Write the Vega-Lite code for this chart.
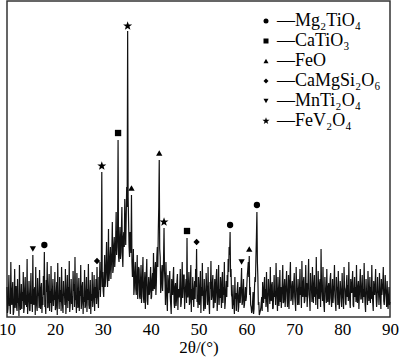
{
  "$schema": "https://vega.github.io/schema/vega-lite/v6.json",
  "width": 383,
  "height": 316,
  "autosize": {"type": "none"},
  "padding": {"left": 7, "top": 1, "right": 10, "bottom": 44},
  "background": "white",
  "config": {
    "font": "Times New Roman, Liberation Serif, serif",
    "axis": {"labelFont": "Times New Roman, Liberation Serif, serif", "titleFont": "Times New Roman, Liberation Serif, serif"},
    "legend": {"labelFont": "Times New Roman, Liberation Serif, serif"},
    "view": {"stroke": "#333", "strokeWidth": 1.5}
  },
  "datasets": {
    "pattern": [
{"t":10.0,"i":30},{"t":10.1,"i":4},{"t":10.2,"i":8},{"t":10.3,"i":22},{"t":10.4,"i":42},{"t":10.5,"i":11},{"t":10.6,"i":15},{"t":10.7,"i":3},{"t":10.8,"i":55},{"t":10.9,"i":19},
{"t":11.0,"i":12},{"t":11.1,"i":26},{"t":11.2,"i":35},{"t":11.3,"i":2},{"t":11.4,"i":5},{"t":11.5,"i":17},{"t":11.6,"i":48},{"t":11.7,"i":9},{"t":11.8,"i":20},{"t":11.9,"i":31},
{"t":12.0,"i":10},{"t":12.1,"i":6},{"t":12.2,"i":38},{"t":12.3,"i":14},{"t":12.4,"i":18},{"t":12.5,"i":1},{"t":12.6,"i":52},{"t":12.7,"i":23},{"t":12.8,"i":7},{"t":12.9,"i":13},
{"t":13.0,"i":33},{"t":13.1,"i":8},{"t":13.2,"i":25},{"t":13.3,"i":16},{"t":13.4,"i":45},{"t":13.5,"i":4},{"t":13.6,"i":9},{"t":13.7,"i":28},{"t":13.8,"i":40},{"t":13.9,"i":12},
{"t":14.0,"i":22},{"t":14.1,"i":10},{"t":14.2,"i":58},{"t":14.3,"i":3},{"t":14.4,"i":14},{"t":14.5,"i":20},{"t":14.6,"i":36},{"t":14.7,"i":7},{"t":14.8,"i":6},{"t":14.9,"i":24},
{"t":15.0,"i":44},{"t":15.1,"i":13},{"t":15.2,"i":19},{"t":15.3,"i":5},{"t":15.4,"i":62},{"t":15.5,"i":15},{"t":15.6,"i":12},{"t":15.7,"i":27},{"t":15.8,"i":30},{"t":15.9,"i":2},
{"t":16.0,"i":50},{"t":16.1,"i":18},{"t":16.2,"i":11},{"t":16.3,"i":6},{"t":16.4,"i":39},{"t":16.5,"i":21},{"t":16.6,"i":24},{"t":16.7,"i":9},{"t":16.8,"i":47},{"t":16.9,"i":16},
{"t":17.0,"i":8},{"t":17.1,"i":29},{"t":17.2,"i":34},{"t":17.3,"i":4},{"t":17.4,"i":20},{"t":17.5,"i":12},{"t":17.6,"i":41},{"t":17.7,"i":22},{"t":17.8,"i":65},{"t":17.9,"i":10},
{"t":18.0,"i":14},{"t":18.1,"i":3},{"t":18.2,"i":37},{"t":18.3,"i":25},{"t":18.4,"i":55},{"t":18.5,"i":9},{"t":18.6,"i":10},{"t":18.7,"i":30},{"t":18.8,"i":43},{"t":18.9,"i":6},
{"t":19.0,"i":26},{"t":19.1,"i":14},{"t":19.2,"i":51},{"t":19.3,"i":5},{"t":19.4,"i":13},{"t":19.5,"i":27},{"t":19.6,"i":38},{"t":19.7,"i":11},{"t":19.8,"i":22},{"t":19.9,"i":17},
{"t":20.0,"i":45},{"t":20.1,"i":7},{"t":20.2,"i":9},{"t":20.3,"i":24},{"t":20.4,"i":35},{"t":20.5,"i":2},{"t":20.6,"i":54},{"t":20.7,"i":19},{"t":20.8,"i":18},{"t":20.9,"i":8},
{"t":21.0,"i":40},{"t":21.1,"i":15},{"t":21.2,"i":27},{"t":21.3,"i":6},{"t":21.4,"i":50},{"t":21.5,"i":23},{"t":21.6,"i":11},{"t":21.7,"i":4},{"t":21.8,"i":36},{"t":21.9,"i":21},
{"t":22.0,"i":24},{"t":22.1,"i":12},{"t":22.2,"i":48},{"t":22.3,"i":3},{"t":22.4,"i":15},{"t":22.5,"i":28},{"t":22.6,"i":42},{"t":22.7,"i":9},{"t":22.8,"i":30},{"t":22.9,"i":16},
{"t":23.0,"i":56},{"t":23.1,"i":5},{"t":23.2,"i":12},{"t":23.3,"i":20},{"t":23.4,"i":38},{"t":23.5,"i":13},{"t":23.6,"i":21},{"t":23.7,"i":7},{"t":23.8,"i":46},{"t":23.9,"i":26},
{"t":24.0,"i":33},{"t":24.1,"i":10},{"t":24.2,"i":60},{"t":24.3,"i":18},{"t":24.4,"i":17},{"t":24.5,"i":4},{"t":24.6,"i":44},{"t":24.7,"i":29},{"t":24.8,"i":9},{"t":24.9,"i":14},
{"t":25.0,"i":39},{"t":25.1,"i":6},{"t":25.2,"i":26},{"t":25.3,"i":21},{"t":25.4,"i":52},{"t":25.5,"i":8},{"t":25.6,"i":14},{"t":25.7,"i":31},{"t":25.8,"i":35},{"t":25.9,"i":3},
{"t":26.0,"i":20},{"t":26.1,"i":15},{"t":26.2,"i":47},{"t":26.3,"i":9},{"t":26.4,"i":11},{"t":26.5,"i":25},{"t":26.6,"i":40},{"t":26.7,"i":5},{"t":26.8,"i":28},{"t":26.9,"i":17},
{"t":27.0,"i":53},{"t":27.1,"i":12},{"t":27.2,"i":8},{"t":27.3,"i":22},{"t":27.4,"i":37},{"t":27.5,"i":3},{"t":27.6,"i":23},{"t":27.7,"i":16},{"t":27.8,"i":45},{"t":27.9,"i":10},
{"t":28.0,"i":16},{"t":28.1,"i":28},{"t":28.2,"i":42},{"t":28.3,"i":6},{"t":28.4,"i":30},{"t":28.5,"i":19},{"t":28.6,"i":38},{"t":28.7,"i":13},{"t":28.8,"i":50},{"t":28.9,"i":24},
{"t":29.0,"i":18},{"t":29.1,"i":9},{"t":29.2,"i":40},{"t":29.3,"i":27},{"t":29.4,"i":55},{"t":29.5,"i":20},{"t":29.6,"i":35},{"t":29.7,"i":48},{"t":29.8,"i":145},{"t":29.9,"i":30},
{"t":30.0,"i":45},{"t":30.1,"i":26},{"t":30.2,"i":20},{"t":30.3,"i":40},{"t":30.4,"i":62},{"t":30.5,"i":30},{"t":30.6,"i":38},{"t":30.7,"i":55},{"t":30.8,"i":75},{"t":30.9,"i":42},
{"t":31.0,"i":30},{"t":31.1,"i":50},{"t":31.2,"i":88},{"t":31.3,"i":36},{"t":31.4,"i":45},{"t":31.5,"i":60},{"t":31.6,"i":70},{"t":31.7,"i":38},{"t":31.8,"i":52},{"t":31.9,"i":66},
{"t":32.0,"i":95},{"t":32.1,"i":44},{"t":32.2,"i":48},{"t":32.3,"i":72},{"t":32.4,"i":80},{"t":32.5,"i":50},{"t":32.6,"i":60},{"t":32.7,"i":78},{"t":32.8,"i":105},{"t":32.9,"i":62},
{"t":33.0,"i":70},{"t":33.1,"i":85},{"t":33.2,"i":177},{"t":33.3,"i":60},{"t":33.4,"i":55},{"t":33.5,"i":75},{"t":33.6,"i":90},{"t":33.7,"i":58},{"t":33.8,"i":65},{"t":33.9,"i":88},
{"t":34.0,"i":110},{"t":34.1,"i":62},{"t":34.2,"i":50},{"t":34.3,"i":80},{"t":34.4,"i":85},{"t":34.5,"i":70},{"t":34.6,"i":118},{"t":34.7,"i":92},{"t":34.8,"i":72},{"t":34.9,"i":100},
{"t":35.0,"i":130},{"t":35.1,"i":110},{"t":35.2,"i":286},{"t":35.3,"i":120},{"t":35.4,"i":95},{"t":35.5,"i":70},{"t":35.6,"i":60},{"t":35.7,"i":85},{"t":35.8,"i":80},{"t":35.9,"i":64},
{"t":36.0,"i":122},{"t":36.1,"i":55},{"t":36.2,"i":40},{"t":36.3,"i":48},{"t":36.4,"i":68},{"t":36.5,"i":22},{"t":36.6,"i":30},{"t":36.7,"i":45},{"t":36.8,"i":55},{"t":36.9,"i":28},
{"t":37.0,"i":22},{"t":37.1,"i":40},{"t":37.2,"i":62},{"t":37.3,"i":18},{"t":37.4,"i":35},{"t":37.5,"i":50},{"t":37.6,"i":48},{"t":37.7,"i":20},{"t":37.8,"i":18},{"t":37.9,"i":38},
{"t":38.0,"i":52},{"t":38.1,"i":14},{"t":38.2,"i":26},{"t":38.3,"i":42},{"t":38.4,"i":60},{"t":38.5,"i":20},{"t":38.6,"i":14},{"t":38.7,"i":33},{"t":38.8,"i":45},{"t":38.9,"i":8},
{"t":39.0,"i":30},{"t":39.1,"i":44},{"t":39.2,"i":58},{"t":39.3,"i":16},{"t":39.4,"i":12},{"t":39.5,"i":28},{"t":39.6,"i":40},{"t":39.7,"i":22},{"t":39.8,"i":25},{"t":39.9,"i":36},
{"t":40.0,"i":50},{"t":40.1,"i":18},{"t":40.2,"i":20},{"t":40.3,"i":38},{"t":40.4,"i":44},{"t":40.5,"i":26},{"t":40.6,"i":64},{"t":40.7,"i":30},{"t":40.8,"i":28},{"t":40.9,"i":48},
{"t":41.0,"i":55},{"t":41.1,"i":22},{"t":41.2,"i":35},{"t":41.3,"i":60},{"t":41.4,"i":70},{"t":41.5,"i":50},{"t":41.6,"i":85},{"t":41.7,"i":110},{"t":41.8,"i":157},{"t":41.9,"i":68},
{"t":42.0,"i":60},{"t":42.1,"i":24},{"t":42.2,"i":30},{"t":42.3,"i":45},{"t":42.4,"i":52},{"t":42.5,"i":26},{"t":42.6,"i":40},{"t":42.7,"i":58},{"t":42.8,"i":89},{"t":42.9,"i":46},
{"t":43.0,"i":35},{"t":43.1,"i":12},{"t":43.2,"i":55},{"t":43.3,"i":30},{"t":43.4,"i":18},{"t":43.5,"i":6},{"t":43.6,"i":42},{"t":43.7,"i":25},{"t":43.8,"i":24},{"t":43.9,"i":38},
{"t":44.0,"i":46},{"t":44.1,"i":20},{"t":44.2,"i":12},{"t":44.3,"i":3},{"t":44.4,"i":38},{"t":44.5,"i":27},{"t":44.6,"i":22},{"t":44.7,"i":40},{"t":44.8,"i":50},{"t":44.9,"i":14},
{"t":45.0,"i":9},{"t":45.1,"i":30},{"t":45.2,"i":34},{"t":45.3,"i":11},{"t":45.4,"i":17},{"t":45.5,"i":36},{"t":45.6,"i":43},{"t":45.7,"i":7},{"t":45.8,"i":28},{"t":45.9,"i":20},
{"t":46.0,"i":20},{"t":46.1,"i":33},{"t":46.2,"i":48},{"t":46.3,"i":10},{"t":46.4,"i":14},{"t":46.5,"i":28},{"t":46.6,"i":55},{"t":46.7,"i":19},{"t":46.8,"i":30},{"t":46.9,"i":42},
{"t":47.0,"i":42},{"t":47.1,"i":8},{"t":47.2,"i":25},{"t":47.3,"i":30},{"t":47.4,"i":38},{"t":47.5,"i":14},{"t":47.6,"i":79},{"t":47.7,"i":20},{"t":47.8,"i":20},{"t":47.9,"i":32},
{"t":48.0,"i":45},{"t":48.1,"i":12},{"t":48.2,"i":15},{"t":48.3,"i":36},{"t":48.4,"i":52},{"t":48.5,"i":5},{"t":48.6,"i":28},{"t":48.7,"i":17},{"t":48.8,"i":40},{"t":48.9,"i":24},
{"t":49.0,"i":10},{"t":49.1,"i":26},{"t":49.2,"i":36},{"t":49.3,"i":18},{"t":49.4,"i":48},{"t":49.5,"i":30},{"t":49.6,"i":68},{"t":49.7,"i":15},{"t":49.8,"i":22},{"t":49.9,"i":9},
{"t":50.0,"i":40},{"t":50.1,"i":18},{"t":50.2,"i":12},{"t":50.3,"i":33},{"t":50.4,"i":46},{"t":50.5,"i":4},{"t":50.6,"i":30},{"t":50.7,"i":21},{"t":50.8,"i":54},{"t":50.9,"i":27},
{"t":51.0,"i":18},{"t":51.1,"i":6},{"t":51.2,"i":38},{"t":51.3,"i":24},{"t":51.4,"i":8},{"t":51.5,"i":15},{"t":51.6,"i":44},{"t":51.7,"i":30},{"t":51.8,"i":26},{"t":51.9,"i":12},
{"t":52.0,"i":50},{"t":52.1,"i":20},{"t":52.2,"i":14},{"t":52.3,"i":3},{"t":52.4,"i":35},{"t":52.5,"i":28},{"t":52.6,"i":56},{"t":52.7,"i":17},{"t":52.8,"i":20},{"t":52.9,"i":34},
{"t":53.0,"i":42},{"t":53.1,"i":9},{"t":53.2,"i":10},{"t":53.3,"i":26},{"t":53.4,"i":38},{"t":53.5,"i":14},{"t":53.6,"i":24},{"t":53.7,"i":40},{"t":53.8,"i":48},{"t":53.9,"i":6},
{"t":54.0,"i":16},{"t":54.1,"i":31},{"t":54.2,"i":52},{"t":54.3,"i":12},{"t":54.4,"i":28},{"t":54.5,"i":19},{"t":54.6,"i":40},{"t":54.7,"i":23},{"t":54.8,"i":9},{"t":54.9,"i":35},
{"t":55.0,"i":45},{"t":55.1,"i":14},{"t":55.2,"i":30},{"t":55.3,"i":22},{"t":55.4,"i":55},{"t":55.5,"i":8},{"t":55.6,"i":15},{"t":55.7,"i":27},{"t":55.8,"i":36},{"t":55.9,"i":20},
{"t":56.0,"i":42},{"t":56.1,"i":30},{"t":56.2,"i":58},{"t":56.3,"i":45},{"t":56.4,"i":70},{"t":56.5,"i":62},{"t":56.6,"i":85},{"t":56.7,"i":40},{"t":56.8,"i":48},{"t":56.9,"i":22},
{"t":57.0,"i":20},{"t":57.1,"i":8},{"t":57.2,"i":32},{"t":57.3,"i":14},{"t":57.4,"i":12},{"t":57.5,"i":3},{"t":57.6,"i":40},{"t":57.7,"i":18},{"t":57.8,"i":24},{"t":57.9,"i":6},
{"t":58.0,"i":18},{"t":58.1,"i":28},{"t":58.2,"i":35},{"t":58.3,"i":5},{"t":58.4,"i":10},{"t":58.5,"i":22},{"t":58.6,"i":30},{"t":58.7,"i":14},{"t":58.8,"i":22},{"t":58.9,"i":35},
{"t":59.0,"i":49},{"t":59.1,"i":12},{"t":59.2,"i":15},{"t":59.3,"i":26},{"t":59.4,"i":38},{"t":59.5,"i":9},{"t":59.6,"i":12},{"t":59.7,"i":20},{"t":59.8,"i":30},{"t":59.9,"i":16},
{"t":60.0,"i":20},{"t":60.1,"i":33},{"t":60.2,"i":42},{"t":60.3,"i":48},{"t":60.4,"i":55},{"t":60.5,"i":40},{"t":60.6,"i":61},{"t":60.7,"i":22},{"t":60.8,"i":30},{"t":60.9,"i":12},
{"t":61.0,"i":10},{"t":61.1,"i":4},{"t":61.2,"i":6},{"t":61.3,"i":15},{"t":61.4,"i":25},{"t":61.5,"i":3},{"t":61.6,"i":8},{"t":61.7,"i":30},{"t":61.8,"i":40},{"t":61.9,"i":35},
{"t":62.0,"i":60},{"t":62.1,"i":80},{"t":62.2,"i":105},{"t":62.3,"i":55},{"t":62.4,"i":40},{"t":62.5,"i":12},{"t":62.6,"i":15},{"t":62.7,"i":2},{"t":62.8,"i":4},{"t":62.9,"i":6},
{"t":63.0,"i":8},{"t":63.1,"i":14},{"t":63.2,"i":20},{"t":63.3,"i":6},{"t":63.4,"i":35},{"t":63.5,"i":22},{"t":63.6,"i":14},{"t":63.7,"i":30},{"t":63.8,"i":40},{"t":63.9,"i":18},
{"t":64.0,"i":28},{"t":64.1,"i":10},{"t":64.2,"i":45},{"t":64.3,"i":24},{"t":64.4,"i":12},{"t":64.5,"i":5},{"t":64.6,"i":38},{"t":64.7,"i":26},{"t":64.8,"i":22},{"t":64.9,"i":13},
{"t":65.0,"i":50},{"t":65.1,"i":18},{"t":65.2,"i":16},{"t":65.3,"i":32},{"t":65.4,"i":35},{"t":65.5,"i":8},{"t":65.6,"i":9},{"t":65.7,"i":25},{"t":65.8,"i":42},{"t":65.9,"i":20},
{"t":66.0,"i":26},{"t":66.1,"i":12},{"t":66.2,"i":54},{"t":66.3,"i":30},{"t":66.4,"i":18},{"t":66.5,"i":6},{"t":66.6,"i":40},{"t":66.7,"i":22},{"t":66.8,"i":11},{"t":66.9,"i":28},
{"t":67.0,"i":47},{"t":67.1,"i":15},{"t":67.2,"i":30},{"t":67.3,"i":9},{"t":67.4,"i":20},{"t":67.5,"i":36},{"t":67.6,"i":52},{"t":67.7,"i":14},{"t":67.8,"i":15},{"t":67.9,"i":30},
{"t":68.0,"i":38},{"t":68.1,"i":10},{"t":68.2,"i":24},{"t":68.3,"i":33},{"t":68.4,"i":46},{"t":68.5,"i":18},{"t":68.6,"i":10},{"t":68.7,"i":25},{"t":68.8,"i":42},{"t":68.9,"i":8},
{"t":69.0,"i":28},{"t":69.1,"i":40},{"t":69.2,"i":55},{"t":69.3,"i":16},{"t":69.4,"i":18},{"t":69.5,"i":30},{"t":69.6,"i":36},{"t":69.7,"i":12},{"t":69.8,"i":22},{"t":69.9,"i":34},
{"t":70.0,"i":44},{"t":70.1,"i":20},{"t":70.2,"i":14},{"t":70.3,"i":6},{"t":70.4,"i":50},{"t":70.5,"i":28},{"t":70.6,"i":26},{"t":70.7,"i":12},{"t":70.8,"i":38},{"t":70.9,"i":19},
{"t":71.0,"i":12},{"t":71.1,"i":30},{"t":71.2,"i":48},{"t":71.3,"i":22},{"t":71.4,"i":30},{"t":71.5,"i":9},{"t":71.6,"i":56},{"t":71.7,"i":25},{"t":71.8,"i":20},{"t":71.9,"i":35},
{"t":72.0,"i":40},{"t":72.1,"i":14},{"t":72.2,"i":16},{"t":72.3,"i":28},{"t":72.4,"i":52},{"t":72.5,"i":20},{"t":72.6,"i":34},{"t":72.7,"i":10},{"t":72.8,"i":24},{"t":72.9,"i":38},
{"t":73.0,"i":58},{"t":73.1,"i":22},{"t":73.2,"i":18},{"t":73.3,"i":6},{"t":73.4,"i":44},{"t":73.5,"i":30},{"t":73.6,"i":28},{"t":73.7,"i":15},{"t":73.8,"i":50},{"t":73.9,"i":26},
{"t":74.0,"i":14},{"t":74.1,"i":32},{"t":74.2,"i":42},{"t":74.3,"i":20},{"t":74.4,"i":30},{"t":74.5,"i":12},{"t":74.6,"i":60},{"t":74.7,"i":27},{"t":74.8,"i":22},{"t":74.9,"i":8},
{"t":75.0,"i":46},{"t":75.1,"i":24},{"t":75.2,"i":18},{"t":75.3,"i":34},{"t":75.4,"i":38},{"t":75.5,"i":10},{"t":75.6,"i":68},{"t":75.7,"i":30},{"t":75.8,"i":24},{"t":75.9,"i":16},
{"t":76.0,"i":50},{"t":76.1,"i":20},{"t":76.2,"i":12},{"t":76.3,"i":5},{"t":76.4,"i":40},{"t":76.5,"i":28},{"t":76.6,"i":26},{"t":76.7,"i":14},{"t":76.8,"i":48},{"t":76.9,"i":22},
{"t":77.0,"i":15},{"t":77.1,"i":30},{"t":77.2,"i":34},{"t":77.3,"i":12},{"t":77.4,"i":20},{"t":77.5,"i":38},{"t":77.6,"i":44},{"t":77.7,"i":18},{"t":77.8,"i":10},{"t":77.9,"i":25},
{"t":78.0,"i":38},{"t":78.1,"i":14},{"t":78.2,"i":25},{"t":78.3,"i":32},{"t":78.4,"i":52},{"t":78.5,"i":20},{"t":78.6,"i":14},{"t":78.7,"i":6},{"t":78.8,"i":40},{"t":78.9,"i":28},
{"t":79.0,"i":30},{"t":79.1,"i":12},{"t":79.2,"i":46},{"t":79.3,"i":24},{"t":79.4,"i":8},{"t":79.5,"i":16},{"t":79.6,"i":36},{"t":79.7,"i":28},{"t":79.8,"i":22},{"t":79.9,"i":10},
{"t":80.0,"i":44},{"t":80.1,"i":26},{"t":80.2,"i":18},{"t":80.3,"i":8},{"t":80.4,"i":50},{"t":80.5,"i":30},{"t":80.6,"i":28},{"t":80.7,"i":14},{"t":80.8,"i":12},{"t":80.9,"i":34},
{"t":81.0,"i":42},{"t":81.1,"i":20},{"t":81.2,"i":32},{"t":81.3,"i":16},{"t":81.4,"i":55},{"t":81.5,"i":24},{"t":81.6,"i":16},{"t":81.7,"i":9},{"t":81.8,"i":38},{"t":81.9,"i":30},
{"t":82.0,"i":24},{"t":82.1,"i":35},{"t":82.2,"i":46},{"t":82.3,"i":12},{"t":82.4,"i":10},{"t":82.5,"i":28},{"t":82.6,"i":40},{"t":82.7,"i":20},{"t":82.8,"i":30},{"t":82.9,"i":15},
{"t":83.0,"i":52},{"t":83.1,"i":22},{"t":83.2,"i":14},{"t":83.3,"i":30},{"t":83.4,"i":36},{"t":83.5,"i":8},{"t":83.6,"i":22},{"t":83.7,"i":34},{"t":83.8,"i":48},{"t":83.9,"i":18},
{"t":84.0,"i":18},{"t":84.1,"i":30},{"t":84.2,"i":42},{"t":84.3,"i":14},{"t":84.4,"i":28},{"t":84.5,"i":20},{"t":84.6,"i":54},{"t":84.7,"i":26},{"t":84.8,"i":12},{"t":84.9,"i":5},
{"t":85.0,"i":38},{"t":85.1,"i":24},{"t":85.2,"i":24},{"t":85.3,"i":12},{"t":85.4,"i":46},{"t":85.5,"i":30},{"t":85.6,"i":16},{"t":85.7,"i":22},{"t":85.8,"i":40},{"t":85.9,"i":14},
{"t":86.0,"i":30},{"t":86.1,"i":18},{"t":86.2,"i":52},{"t":86.3,"i":26},{"t":86.4,"i":14},{"t":86.5,"i":6},{"t":86.6,"i":36},{"t":86.7,"i":28},{"t":86.8,"i":22},{"t":86.9,"i":34},
{"t":87.0,"i":48},{"t":87.1,"i":20},{"t":87.2,"i":10},{"t":87.3,"i":16},{"t":87.4,"i":40},{"t":87.5,"i":24},{"t":87.6,"i":26},{"t":87.7,"i":12},{"t":87.8,"i":44},{"t":87.9,"i":30},
{"t":88.0,"i":18},{"t":88.1,"i":8},{"t":88.2,"i":38},{"t":88.3,"i":22},{"t":88.4,"i":28},{"t":88.5,"i":34},{"t":88.6,"i":50},{"t":88.7,"i":16},{"t":88.8,"i":12},{"t":88.9,"i":24},
{"t":89.0,"i":42},{"t":89.1,"i":28},{"t":89.2,"i":20},{"t":89.3,"i":10},{"t":89.4,"i":36},{"t":89.5,"i":18},{"t":89.6,"i":8},{"t":89.7,"i":20},{"t":89.8,"i":30},{"t":89.9,"i":12},
{"t":90.0,"i":15}
    ],
    "markers": [
      {"phase":"Mg₂TiO₄","t":17.8,"i":72},
      {"phase":"Mg₂TiO₄","t":56.6,"i":92},
      {"phase":"Mg₂TiO₄","t":62.2,"i":112},
      {"phase":"CaTiO₃","t":33.2,"i":184},
      {"phase":"CaTiO₃","t":47.6,"i":86},
      {"phase":"FeO","t":36.0,"i":129},
      {"phase":"FeO","t":41.8,"i":164},
      {"phase":"FeO","t":60.6,"i":68},
      {"phase":"CaMgSi₂O₆","t":28.8,"i":56},
      {"phase":"CaMgSi₂O₆","t":49.6,"i":75},
      {"phase":"MnTi₂O₄","t":15.4,"i":68},
      {"phase":"MnTi₂O₄","t":59.0,"i":55},
      {"phase":"FeV₂O₄","t":29.8,"i":151},
      {"phase":"FeV₂O₄","t":35.2,"i":291},
      {"phase":"FeV₂O₄","t":42.8,"i":95}
    ]
  },
  "layer": [
    {
      "data": {"name": "pattern"},
      "mark": {"type": "line", "color": "#111", "strokeWidth": 1.2, "interpolate": "linear"},
      "encoding": {
        "x": {"field": "t", "type": "quantitative",
          "scale": {"domain": [10, 90], "nice": false},
          "axis": {"values": [10,20,30,40,50,60,70,80,90], "ticks": false, "grid": false, "domain": false,
            "labelFont": "Times New Roman, Liberation Serif, serif", "labelFontSize": 17, "labelColor": "black", "labelPadding": 4,
            "labelFlush": false, "labelOverlap": false,
            "title": "2θ/(°)", "titleFont": "Times New Roman, Liberation Serif, serif", "titleFontSize": 17, "titleFontWeight": "normal", "titleColor": "black", "titlePadding": 2}},
        "y": {"field": "i", "type": "quantitative", "scale": {"domain": [0, 316], "nice": false}, "axis": null}
      }
    },
    {
      "data": {"name": "markers"},
      "mark": {"type": "point", "filled": true, "color": "black", "opacity": 1, "size": 40},
      "encoding": {
        "x": {"field": "t", "type": "quantitative"},
        "y": {"field": "i", "type": "quantitative"},
        "shape": {"field": "phase", "type": "nominal",
          "scale": {"domain": ["Mg₂TiO₄","CaTiO₃","FeO","CaMgSi₂O₆","MnTi₂O₄","FeV₂O₄"],
                    "range": ["circle","square","triangle-up","diamond","triangle-down","M0,-1.5L0.353,-0.486L1.427,-0.464L0.57,0.186L0.882,1.214L0,0.6L-0.882,1.214L-0.57,0.186L-1.427,-0.464L-0.353,-0.486Z"]},
          "legend": {"orient": "none", "legendX": 250, "legendY": 11, "title": null,
            "labelExpr": "'—' + datum.label",
            "labelFont": "Times New Roman, Liberation Serif, serif", "labelFontSize": 18, "labelColor": "black",
            "symbolSize": 25, "symbolFillColor": "black", "symbolStrokeWidth": 0, "symbolOpacity": 1,
            "rowPadding": 2, "labelOffset": 2}
        }
      }
    }
  ]
}
